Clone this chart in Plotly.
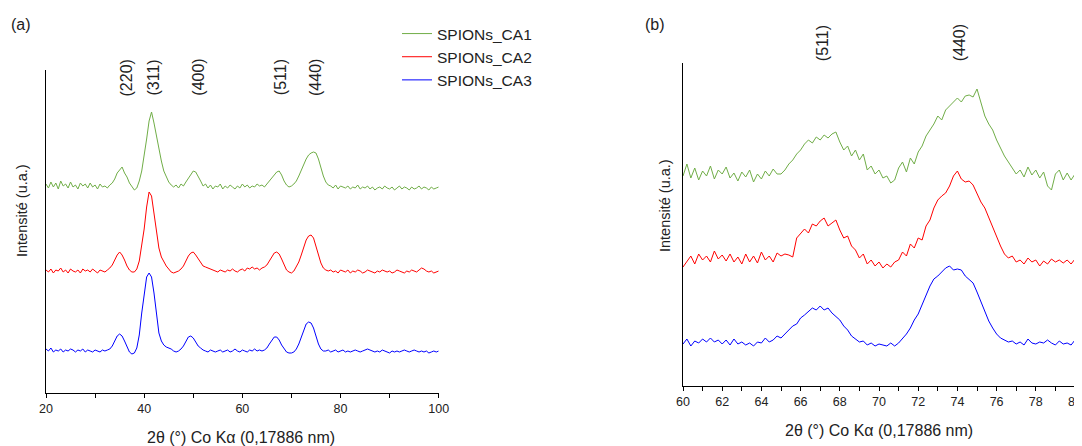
import plotly.graph_objects as go

W, H = 1082, 446          # browser window
OFF = 8                   # default page body margin
FW, FH = W, H - OFF       # figure size (width may run past the window edge)

# ---------------- data (intensities in arbitrary units, offsets included) ----------------
# Panel (a): 2theta from 20 to 100 deg, step 0.5
a_start, a_step = 20.0, 0.5
a_green = [209, 205, 211, 206, 210, 204, 212, 207, 209, 205, 211, 206, 208, 204, 210, 207, 209, 205, 210, 206,
           208, 204, 209, 206, 207, 205,
           208, 210, 214, 220, 223, 226, 220, 216, 210, 206, 203, 205,
           212, 222, 236, 254, 272, 281, 270, 256, 243, 232, 222, 216, 211, 208, 206,
           208, 205, 209, 207, 211,
           215, 219, 222, 221, 217, 212, 207,
           209, 205, 208, 204, 207, 206, 209, 204, 207, 205, 208, 206, 204, 207, 205, 209, 206, 208, 205, 207,
           206, 209, 207, 208, 206,
           209, 212, 215, 219, 221, 222, 218, 212, 208, 206, 207, 209,
           212, 217, 223, 229, 234, 238, 240, 241, 240, 234, 225, 217, 211, 208,
           207, 205, 208, 204, 207, 206, 205, 207, 204, 206, 205, 208, 204, 206, 205, 207, 204, 206, 203, 205,
           206, 204, 207, 205, 204, 206, 203, 205, 207, 204, 206, 205, 203, 206, 204, 205, 207, 204, 206, 205,
           203, 206, 204, 205, 206]
a_red = [123, 121, 124, 120, 123, 122, 125, 121, 123, 120, 124, 122, 121, 123, 120, 124, 122, 123, 121, 124,
         122, 120, 123, 122, 121, 123,
         125, 128, 133, 138, 141, 138, 133, 127, 123, 121, 121, 124,
         132, 146, 164, 186, 201, 197, 180, 160, 145, 136, 131, 127, 124, 121, 120,
         121, 122, 124, 127, 132,
         137, 140, 141, 138, 134, 130, 127,
         126, 125, 124, 123, 122, 121, 123, 122, 121, 123, 122, 124, 122, 121, 123, 124, 122, 125, 124, 126,
         124, 125, 123, 125, 126,
         128, 132, 137, 140, 141, 139, 134, 128, 123, 121, 120, 122,
         126, 131, 138, 146, 153, 157, 158, 155, 147, 138, 130, 125, 123, 122,
         123, 121, 122, 120, 123, 122, 121, 123, 120, 122, 121, 123, 122, 120, 121, 123, 122, 121, 120, 122,
         121, 123, 122, 121, 122, 120, 121, 123, 122, 121, 120, 122, 121, 123, 122, 121, 123, 125, 124, 122,
         121, 122, 120, 121, 122]
a_blue = [44, 42, 45, 41, 43, 42, 44, 41, 43, 42, 44, 43, 41, 43, 42, 44, 41, 43, 42, 41,
          43, 42, 41, 43, 42, 43,
          44, 47, 52, 57, 59, 57, 52, 46, 41, 39, 40, 45,
          58, 80, 100, 116, 120, 116, 100, 78, 60, 52, 48, 46, 45, 44, 42,
          41, 42, 44, 47, 52,
          56, 57, 55, 51, 47, 45, 43,
          42, 41, 43, 42, 41, 42, 43, 41, 42, 43, 41, 42, 44, 42, 41, 43, 42, 41, 43, 42,
          44, 42, 43, 42, 43,
          45, 49, 53, 56, 56, 53, 48, 44, 41, 40, 40, 41,
          44, 49, 56, 64, 69, 71, 70, 65, 57, 49, 44, 42, 42, 43,
          41, 42, 43, 41, 42, 43, 41, 42, 41, 42, 43, 42, 41, 42, 43, 44, 43, 42, 41, 42,
          41, 43, 42, 41, 40, 42, 41, 42, 41, 42, 43, 42, 41, 42, 43, 42, 41, 42, 41, 42,
          40, 41, 42, 41, 42]

# Panel (b): 2theta from 60 to 80 deg, step 0.2
b_start, b_step = 60.0, 0.2
b_green = [210, 222, 208, 218, 206, 215, 210, 220, 207, 216, 212, 219, 208, 213, 205, 214, 209, 216, 204, 212,
           207, 215, 210, 217, 212,
           212, 216, 222, 226, 232, 236, 242, 246, 243, 249, 246, 251, 248, 252, 254, 244, 236, 240, 230, 236,
           226, 232, 216, 220, 212, 216, 208, 210, 203, 206, 218, 224, 214, 228, 222, 234, 240, 250, 256, 262,
           270, 266, 276, 280, 284, 288, 284, 290, 291, 289, 297, 284, 270, 262, 256, 246, 238, 230, 224, 218,
           212, 216, 209, 219, 211, 216, 208, 214, 200, 196, 212, 216, 206, 213, 206, 212]
b_red = [119, 124, 130, 122, 132, 126, 130, 124, 135, 127, 131, 125, 132, 124, 129, 122, 132, 124, 130, 123,
         134, 126, 130, 124, 133,
         130, 132, 131, 129, 148, 152, 157, 153, 162, 160, 165, 168, 160, 163, 166, 156, 148, 150, 140, 136,
         128, 132, 122, 126, 120, 124, 118, 122, 119, 124, 126, 134, 130, 142, 138, 148, 146, 160, 166, 178,
         186, 190, 193, 200, 210, 215, 207, 204, 205, 201, 192, 184, 178, 168, 160, 148, 140, 132, 128, 130,
         124, 126, 122, 128, 124, 126, 120, 125, 122, 127, 124, 126, 123, 126, 122, 127]
b_blue = [42, 47, 40, 45, 43, 47, 44, 48, 44, 46, 42, 46, 41, 47, 42, 44, 41, 43, 40, 44,
          43, 48, 44, 46, 50,
          48, 52, 56, 60, 62, 68, 71, 75, 78, 76, 80, 76, 78, 73, 69, 66, 60, 56, 50, 47,
          44, 45, 41, 43, 40, 42, 41, 40, 43, 40, 43, 47, 52, 58, 66, 72, 82, 92, 100, 107,
          110, 114, 118, 120, 116, 117, 116, 110, 106, 103, 94, 84, 74, 65, 58, 52, 48, 46, 44, 45,
          42, 44, 41, 47, 43, 42, 44, 43, 46, 43, 41, 45, 42, 43, 41, 46]

series_names = ["SPIONs_CA1", "SPIONs_CA2", "SPIONs_CA3"]
series_colors = ["#70AD47", "#FF0000", "#0000FF"]

peaks_a_labels = ["(220)", "(311)", "(400)", "(511)", "(440)"]
peaks_a_pos = [36.5, 42.0, 51.0, 67.8, 74.9]
peaks_b_labels = ["(511)", "(440)"]
peaks_b_pos = [67.1, 74.1]

x_title = "2θ (°) Co Kα (0,17886 nm)"
y_title = "Intensité (u.a.)"

# ---------------- figure ----------------
def px(x):
    """window pixel -> paper fraction"""
    return (x - OFF) / FW

def py(y):
    return (FH - (y - OFF)) / FH

def grid(start, step, n):
    return [round(start + step * i, 4) for i in range(n)]

FONT = "Liberation Sans, Arial, sans-serif"
TXT = "#222222"
fig = go.Figure()

for name, col, ys in zip(series_names, series_colors, [a_green, a_red, a_blue]):
    fig.add_trace(go.Scatter(x=grid(a_start, a_step, len(ys)), y=ys, mode="lines", name=name,
                             line=dict(color=col, width=1), xaxis="x", yaxis="y"))
for name, col, ys in zip(series_names, series_colors, [b_green, b_red, b_blue]):
    fig.add_trace(go.Scatter(x=grid(b_start, b_step, len(ys)), y=ys, mode="lines", name=name,
                             line=dict(color=col, width=1), xaxis="x2", yaxis="y2", showlegend=False))

xcommon = dict(showline=True, linecolor="black", linewidth=1, ticks="outside", ticklen=4,
               tickcolor="black", showgrid=False, zeroline=False, automargin=False,
               ticklabeloverflow="allow",
               tickfont=dict(family=FONT, size=12.5, color=TXT))
ycommon = dict(showline=True, linecolor="black", linewidth=1, showticklabels=False, ticks="",
               showgrid=False, zeroline=False, range=[0, 323], automargin=False)

fig.update_layout(
    template="none",
    width=FW, height=FH, margin=dict(l=0, r=0, t=0, b=0, pad=0, autoexpand=False),
    paper_bgcolor="white", plot_bgcolor="white",
    font=dict(family=FONT, color=TXT),
    xaxis=dict(domain=[px(46), px(438.7)], range=[20, 100], dtick=20,
               minor=dict(dtick=10, ticks="outside", ticklen=4, tickcolor="black"),
               anchor="y", **xcommon),
    yaxis=dict(domain=[py(393), py(70)], anchor="x", **ycommon),
    xaxis2=dict(domain=[px(683), px(1075)], range=[60, 80], dtick=2,
                minor=dict(dtick=1, ticks="outside", ticklen=4, tickcolor="black"),
                anchor="y2", **xcommon),
    yaxis2=dict(domain=[py(386), py(63)], anchor="x2", **ycommon),
    legend=dict(x=px(397), y=py(17), xanchor="left", yanchor="top",
                font=dict(family=FONT, size=15.5, color=TXT), bgcolor="rgba(0,0,0,0)",
                borderwidth=0, tracegroupgap=0),
    showlegend=True,
)

def note(x, y, text, size, xref="paper", angle=0):
    return dict(x=x, y=y, xref=xref, yref="paper", text=text, textangle=angle, showarrow=False,
                xanchor="center", yanchor="middle", font=dict(family=FONT, size=size, color=TXT))

ann = []
for lab, pos in zip(peaks_a_labels, peaks_a_pos):
    ann.append(note(pos, py(77.5), lab, 16, xref="x", angle=-90))
for lab, pos in zip(peaks_b_labels, peaks_b_pos):
    ann.append(note(pos, py(43), lab, 16, xref="x2", angle=-90))
ann += [
    note(px(21), py(25), "(a)", 16),
    note(px(655), py(24), "(b)", 16),
    note(px(22), py(211), y_title, 14.5, angle=-90),
    note(px(665), py(206), y_title, 14.5, angle=-90),
    note(px(241), py(437), x_title, 16),
    note(px(879), py(430), x_title, 16),
]
fig.update_layout(annotations=ann)

fig.write_html("out.html")
